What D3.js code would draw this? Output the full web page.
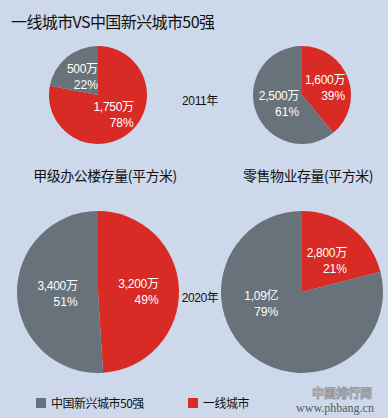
<!DOCTYPE html>
<html>
<head>
<meta charset="utf-8">
<script src="https://cdn.jsdelivr.net/npm/d3@7"></script>
<style>
  html, body { margin: 0; padding: 0; background: #cdd8ea; }
  #chart { width: 388px; height: 418px; }
  text { font-family: "Liberation Sans", "Noto Sans CJK SC", sans-serif; }
</style>
</head>
<body>
<div id="chart"></div>
<script>
// ---------------------------------- DATA ---------------------------------- //

let series = ['一线城市', '中国新兴城市50强'];
let years = ['2011年', '2020年'];
let panels = ['甲级办公楼存量(平方米)', '零售物业存量(平方米)'];

// [tier1, new50] per panel, per year
let value_labels_2011 = [['1,750万', '500万'], ['1,600万', '2,500万']];
let value_labels_2020 = [['3,200万', '3,400万'], ['2,800万', '1,09亿']];
let pct_2011 = [[78, 22], [39, 61]];
let pct_2020 = [[49, 51], [21, 79]];

// ---------------------------------- SETTINGS ---------------------------------- //

let img_width = 388;
let img_height = 418;
let bg_color = '#cdd8ea';
let red_color = '#d92b26';
let gray_color = '#68727a';
let text_color = '#111';
let col_x = [98, 302];
let row_y = [95, 292];
let row_r = [49, 81];

let color = d3.scaleOrdinal().domain(series).range([red_color, gray_color]);
let pie = d3.pie().sort(null).value(d => d.pct);

let svg = d3.select('#chart')
  .append('svg')
  .attr('width', img_width)
  .attr('height', img_height);

svg.append('rect')
  .attr('width', img_width)
  .attr('height', img_height)
  .attr('fill', bg_color);

// title
svg.append('text')
  .attr('x', 11)
  .attr('y', 28)
  .attr('fill', text_color)
  .style('font-family', '"Noto Sans CJK SC", sans-serif')
  .style('font-size', '16px')
  .style('letter-spacing', '-0.6px')
  .text('一线城市VS中国新兴城市50强');

// ---------------------------------- PIES ---------------------------------- //

let rows = [
  { year: years[0], labels: value_labels_2011, pcts: pct_2011 },
  { year: years[1], labels: value_labels_2020, pcts: pct_2020 }
];

rows.forEach((row, ri) => {
  let r = row_r[ri];
  let arc = d3.arc().innerRadius(0).outerRadius(r);

  panels.forEach((panel, pi) => {
    let data = series.map((s, si) => ({ name: s, pct: row.pcts[pi][si], label: row.labels[pi][si] }));
    let g = svg.append('g')
      .attr('transform', `translate(${col_x[pi]},${row_y[ri]})`);

    let arcs = pie(data);
    g.selectAll('path')
      .data(arcs)
      .enter()
      .append('path')
      .attr('d', arc)
      .attr('fill', d => color(d.data.name));

    arcs.forEach(a => {
      let c = arc.centroid(a);
      // big grey slice of retail 2020: label sits higher than its centroid
      if (ri === 1 && pi === 1 && a.data.name === series[1]) {
        let ang = -1.83;
        c = [Math.sin(ang) * r * 0.52, -Math.cos(ang) * r * 0.52];
      }
      let t1 = g.append('text')
        .attr('x', c[0])
        .attr('y', c[1] - 3)
        .attr('text-anchor', 'middle')
        .attr('fill', '#fff')
        .style('font-size', '12px')
        .style('letter-spacing', '-0.3px')
        .text(a.data.label);
      let w = t1.node().getComputedTextLength();
      g.append('text')
        .attr('x', c[0] + w / 2)
        .attr('y', c[1] + 13)
        .attr('text-anchor', 'end')
        .attr('fill', '#fff')
        .style('font-size', '12px')
        .text(a.data.pct + '%');
    });
  });

  svg.append('text')
    .attr('x', 200)
    .attr('y', row_y[ri] + 10)
    .attr('text-anchor', 'middle')
    .attr('fill', text_color)
    .style('font-size', '12px')
    .style('letter-spacing', '-0.4px')
    .text(row.year);
});

// panel titles
let panel_x = [105, 308];
panels.forEach((p, i) => {
  svg.append('text')
    .attr('x', panel_x[i])
    .attr('y', 181)
    .attr('text-anchor', 'middle')
    .attr('fill', text_color)
    .style('font-family', '"Noto Sans CJK SC", sans-serif')
    .style('font-size', '14px')
    .style('letter-spacing', '-0.5px')
    .text(p);
});

// ---------------------------------- LEGEND ---------------------------------- //

let legend_items = [series[1], series[0]];
let legend_x = [36, 188];
legend_items.forEach((s, i) => {
  svg.append('rect')
    .attr('x', legend_x[i])
    .attr('y', 398)
    .attr('width', 10)
    .attr('height', 10)
    .attr('fill', color(s));
  svg.append('text')
    .attr('x', legend_x[i] + 15)
    .attr('y', 408)
    .attr('fill', text_color)
    .style('font-family', '"Noto Sans CJK SC", sans-serif')
    .style('font-size', '12px')
    .style('letter-spacing', '-0.5px')
    .text(s);
});

// watermark
svg.append('text')
  .attr('x', 342)
  .attr('y', 398)
  .attr('text-anchor', 'middle')
  .attr('fill', '#c6ccd4')
  .attr('stroke', '#8d949c')
  .attr('stroke-width', 0.8)
  .style('font-family', '"Noto Sans CJK SC", sans-serif')
  .style('font-size', '12px')
  .style('font-weight', 'bold')
  .text('中国排行网');
svg.append('text')
  .attr('x', 335)
  .attr('y', 412)
  .attr('text-anchor', 'middle')
  .attr('fill', '#555b62')
  .style('font-family', '"Liberation Serif", serif')
  .style('font-size', '12px')
  .text('www.phbang.cn');
</script>
</body>
</html>
